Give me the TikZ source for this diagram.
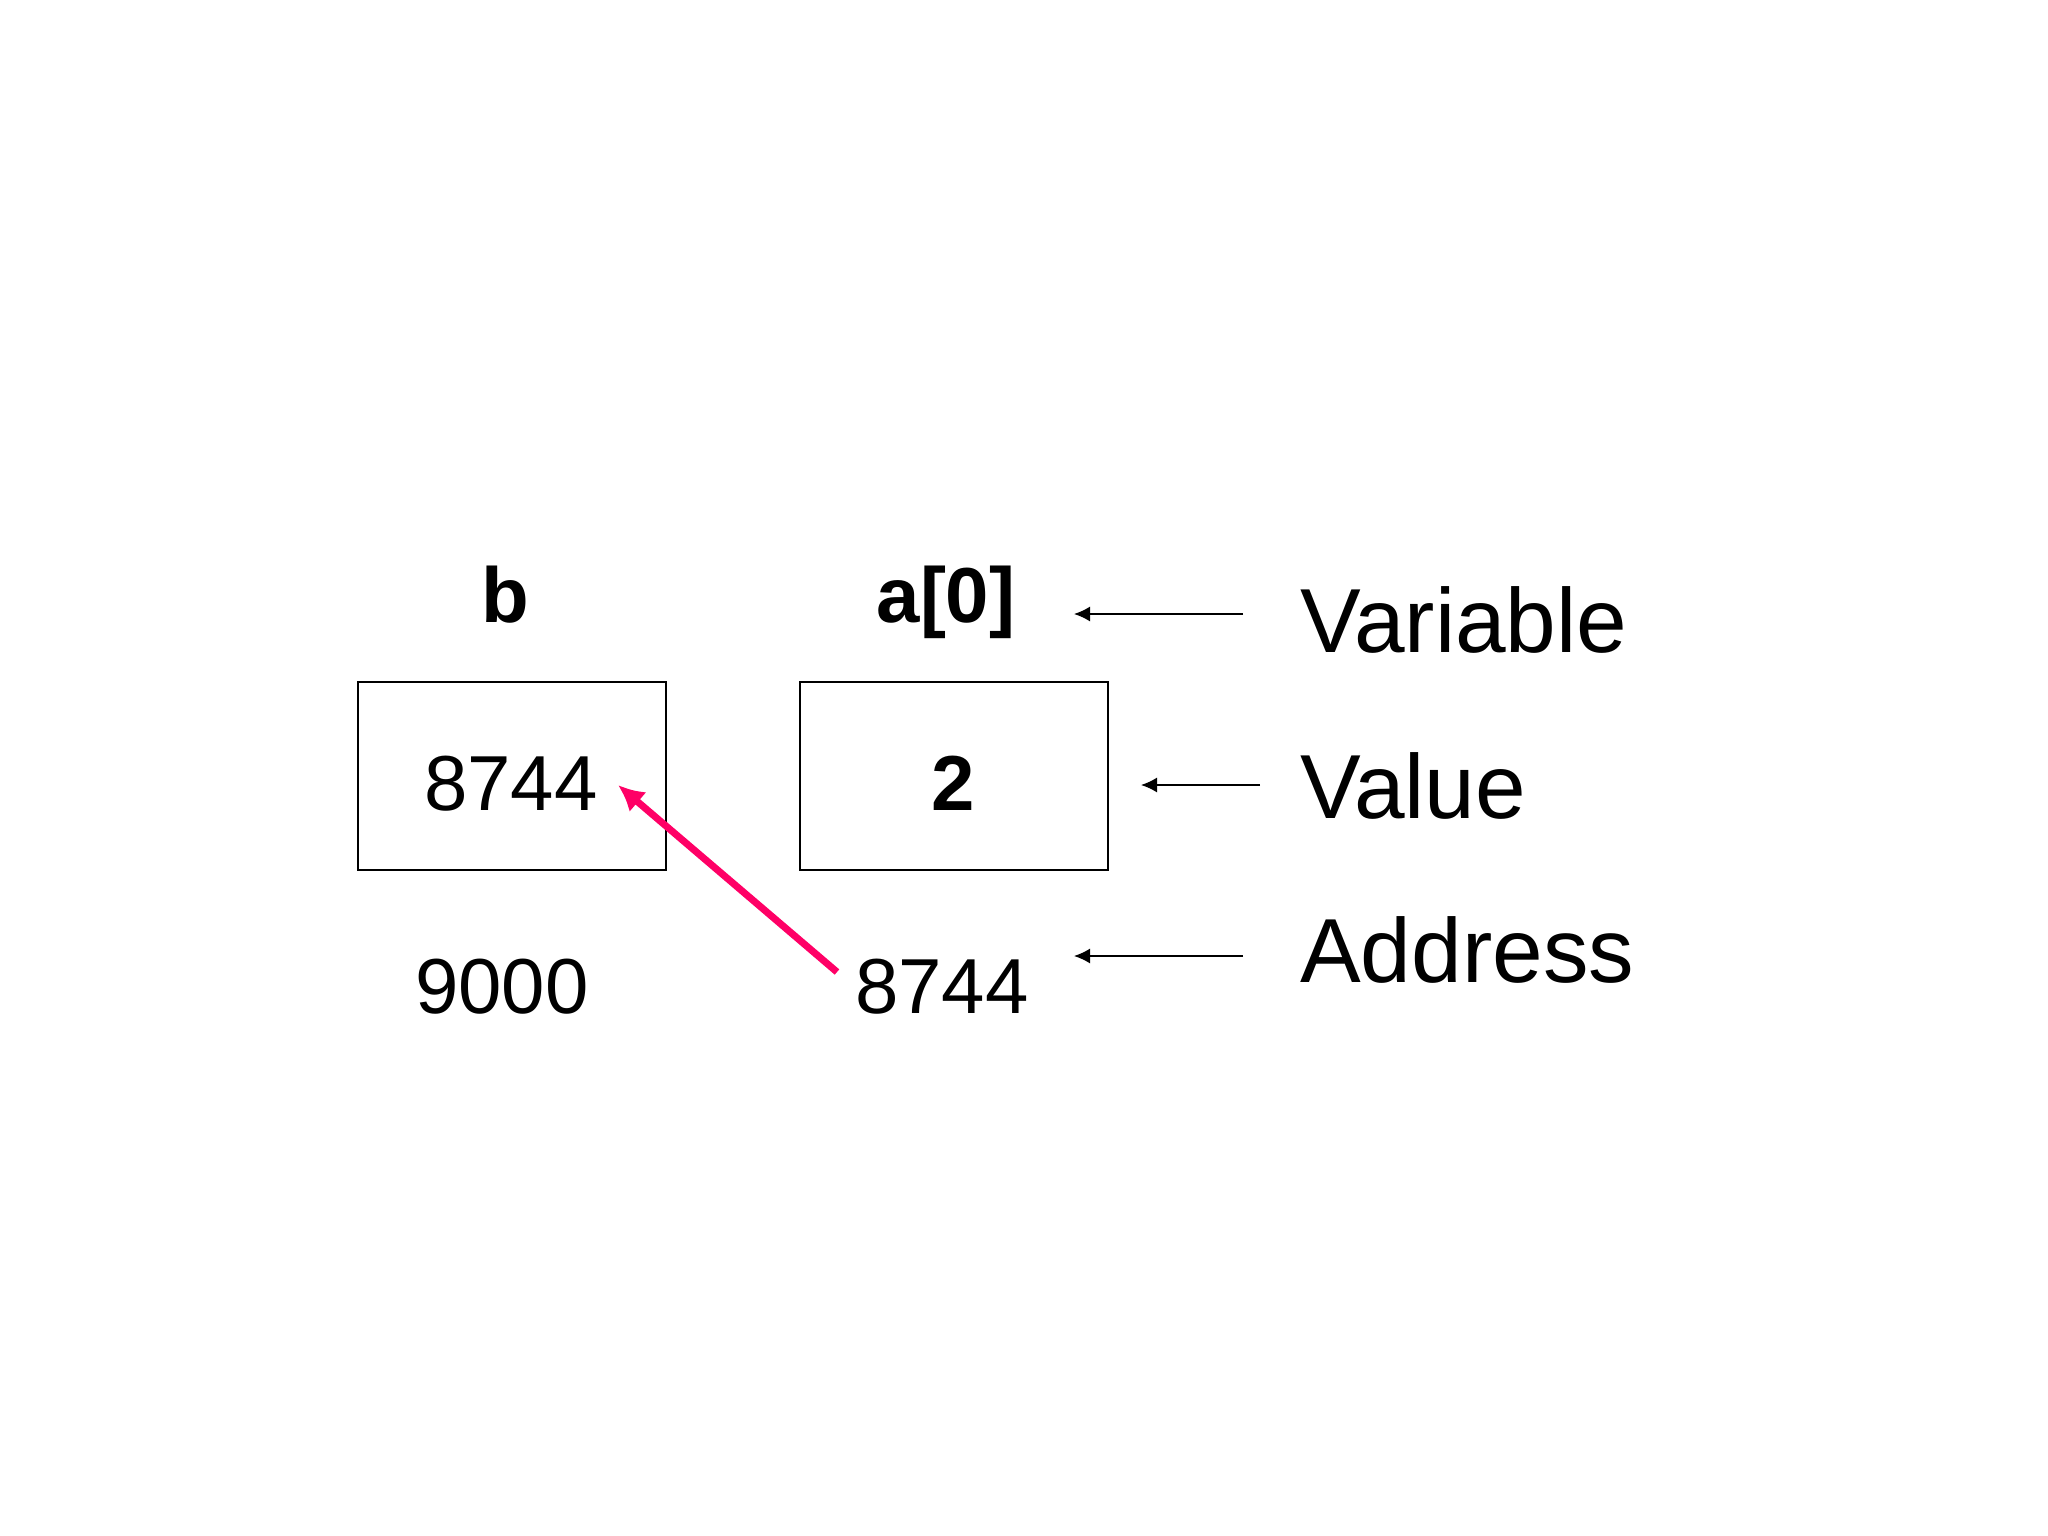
\documentclass[tikz,border=0pt]{standalone}
\usepackage{fontspec}
\setmainfont{Liberation Sans}
\usetikzlibrary{arrows.meta}
\definecolor{pinkarrow}{RGB}{255,0,102}
\tikzset{
  cell/.style={draw=black, line width=2pt, minimum width=308pt, minimum height=188pt, inner sep=0pt},
  big/.style={font=\fontsize{78}{90}\selectfont, anchor=base, inner sep=0pt},
  bigbold/.style={font=\fontsize{78}{90}\selectfont\bfseries, anchor=base, inner sep=0pt},
  side/.style={font=\fontsize{91}{104}\selectfont, anchor=base west, inner sep=0pt},
  thinarrow/.style={line width=1.5pt, -{Latex[length=16pt,width=15pt]}},
  ptr/.style={draw=pinkarrow, line width=7pt, -{Latex[length=26pt,width=26pt]}}
}
\begin{document}
\begin{tikzpicture}[x=1pt,y=-1pt]
\useasboundingbox[fill=white] (0,0) rectangle (2048,1536);
% boxes
\node[cell] (boxb) at (512,776) {};
\node[cell] (boxa) at (953.5,776) {};
% labels above
\node[bigbold] (lb) at (505,622) {b};
\node[bigbold] (la) at (946,622) {a[0]};
% values
\node[big] (vb) at (511,810) {8744};
\node[bigbold] (va) at (953,810) {2};
% addresses
\node[big] (adb) at (502,1013) {9000};
\node[big] (ada) at (942,1013) {8744};
% side labels
\node[side] (tvar) at (1300,652) {Variable};
\node[side] (tval) at (1300,818) {Value};
\node[side] (tadr) at (1300,982) {Address};
% arrow coordinates
\coordinate (s1) at (1243,614);
\coordinate (e1) at (1074,614);
\coordinate (s2) at (1260,785);
\coordinate (e2) at (1141,785);
\coordinate (s3) at (1243,956);
\coordinate (e3) at (1074,956);
\draw[thinarrow] (s1) -- (e1);
\draw[thinarrow] (s2) -- (e2);
\draw[thinarrow] (s3) -- (e3);
% pointer arrow
\coordinate (pstart) at (837,972);
\coordinate (pend) at (618,785);
\draw[ptr] (pstart) -- (pend);
\end{tikzpicture}
\end{document}
